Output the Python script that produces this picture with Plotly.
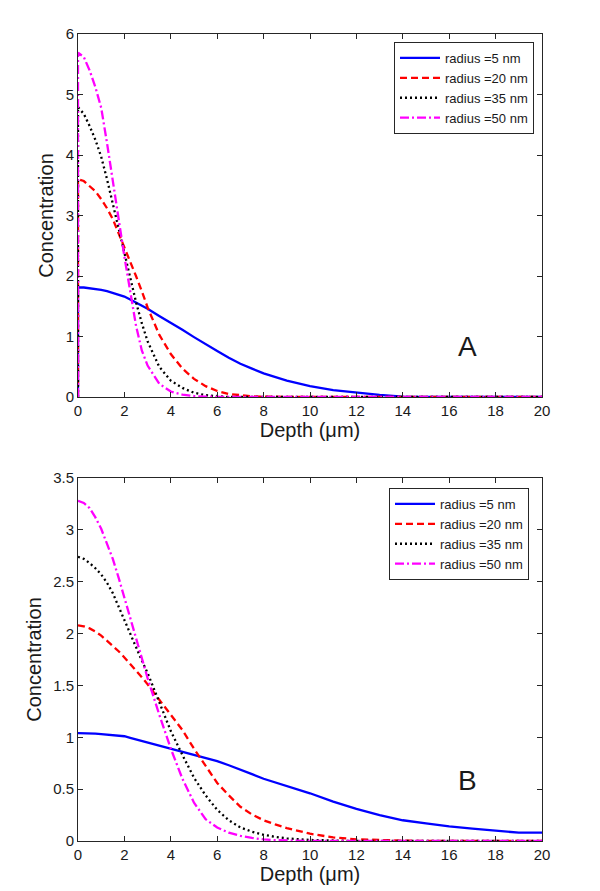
import plotly.graph_objects as go

# ---------------- data ----------------
series_names = ["radius =5 nm", "radius =20 nm", "radius =35 nm", "radius =50 nm"]

# Panel A (first point is the (0,0) start that draws the vertical rise at x=0)
depth_a = [0,
           0, 0.25, 0.5, 0.75, 1, 1.25, 1.5, 1.75, 2, 2.25, 2.5, 2.75, 3,
           3.5, 4, 4.5, 5, 5.5, 6, 6.5, 7, 7.5, 8,
           9, 10, 11, 12, 13, 14, 15, 16, 17, 18, 19, 20]
r5_a = [0,
        1.81, 1.81, 1.80, 1.79, 1.77, 1.75, 1.72, 1.69, 1.66, 1.61, 1.56, 1.51, 1.46,
        1.34, 1.23, 1.11, 0.99, 0.87, 0.76, 0.65, 0.55, 0.47, 0.39,
        0.27, 0.18, 0.115, 0.07, 0.035, 0.005, 0, 0, 0, 0, 0, 0]
r20_a = [0,
         3.60, 3.57, 3.49, 3.40, 3.27, 3.12, 2.94, 2.71, 2.45, 2.24, 2.00, 1.75, 1.48,
         1.03, 0.71, 0.47, 0.30, 0.18, 0.10, 0.05, 0.025, 0.012, 0.005,
         0, 0, 0, 0, 0, 0, 0, 0, 0, 0, 0, 0]
r35_a = [0,
         4.79, 4.68, 4.48, 4.25, 3.97, 3.60, 3.19, 2.78, 2.37, 1.96, 1.57, 1.22, 0.92,
         0.50, 0.27, 0.15, 0.07, 0.03, 0.01, 0, 0, 0, 0,
         0, 0, 0, 0, 0, 0, 0, 0, 0, 0, 0, 0]
r50_a = [0,
         5.69, 5.62, 5.40, 5.12, 4.78, 4.20, 3.55, 2.90, 2.32, 1.75, 1.18, 0.77, 0.52,
         0.22, 0.09, 0.04, 0.015, 0.005, 0, 0, 0, 0, 0,
         0, 0, 0, 0, 0, 0, 0, 0, 0, 0, 0, 0]

# Panel B
depth_b = [0, 0.25, 0.5, 0.75, 1, 1.25, 1.5, 1.75, 2, 2.25, 2.5, 2.75, 3,
           3.5, 4, 4.5, 5, 5.5, 6, 6.5, 7, 7.5, 8, 8.5, 9,
           10, 11, 12, 13, 14, 15, 16, 17, 18, 19, 20]
r5_b = [1.04, 1.04, 1.04, 1.035, 1.03, 1.025, 1.02, 1.015, 1.01, 0.995, 0.98, 0.97, 0.955,
        0.92, 0.89, 0.86, 0.83, 0.80, 0.77, 0.73, 0.69, 0.645, 0.60, 0.565, 0.53,
        0.46, 0.38, 0.31, 0.25, 0.20, 0.17, 0.14, 0.12, 0.10, 0.08, 0.08]
r20_b = [2.08, 2.07, 2.05, 2.02, 1.98, 1.93, 1.88, 1.83, 1.77, 1.71, 1.65, 1.58, 1.51,
         1.36, 1.22, 1.07, 0.89, 0.72, 0.56, 0.44, 0.33, 0.255, 0.20, 0.16, 0.125,
         0.07, 0.035, 0.016, 0.008, 0.004, 0, 0, 0, 0, 0, 0]
r35_b = [2.74, 2.72, 2.68, 2.63, 2.57, 2.49, 2.39, 2.26, 2.12, 1.99, 1.86, 1.74, 1.62,
         1.33, 1.06, 0.83, 0.61, 0.44, 0.30, 0.20, 0.13, 0.09, 0.06, 0.04, 0.025,
         0.01, 0.004, 0, 0, 0, 0, 0, 0, 0, 0, 0]
r50_b = [3.28, 3.26, 3.21, 3.12, 3.01, 2.87, 2.72, 2.54, 2.35, 2.15, 1.95, 1.76, 1.57,
         1.22, 0.89, 0.60, 0.37, 0.21, 0.13, 0.08, 0.05, 0.03, 0.015, 0.008, 0.004,
         0, 0, 0, 0, 0, 0, 0, 0, 0, 0, 0]

x_ticks = [0, 2, 4, 6, 8, 10, 12, 14, 16, 18, 20]
y_ticks_a = [0, 1, 2, 3, 4, 5, 6]
y_ticks_b = [0, 0.5, 1, 1.5, 2, 2.5, 3, 3.5]
panel_labels = ["A", "B"]

# ---------------- styling ----------------
OFF = 8                      # page body margin of the browser
W, H = 600 - OFF, 891 - OFF  # figure size so that page == 600x891
FONT = "Liberation Sans, Arial, sans-serif"
TXT = "#1a1a1a"
AX = "#262626"
colors = ["#0000ff", "#ff0000", "#000000", "#ff00ff"]
dashes = ["solid", "7px,4px", "2px,3px", "9px,3px,2px,3px"]


def fx(p):
    return (p - OFF) / W


def fy(p):
    return 1 - (p - OFF) / H


fig = go.Figure()

for name, ys, c, d in zip(series_names, [r5_a, r20_a, r35_a, r50_a], colors, dashes):
    fig.add_trace(go.Scatter(x=depth_a, y=ys, mode="lines", name=name,
                             line=dict(color=c, width=2.3, dash=d),
                             xaxis="x", yaxis="y", legend="legend"))
for name, ys, c, d in zip(series_names, [r5_b, r20_b, r35_b, r50_b], colors, dashes):
    fig.add_trace(go.Scatter(x=depth_b, y=ys, mode="lines", name=name,
                             line=dict(color=c, width=2.3, dash=d),
                             xaxis="x2", yaxis="y2", legend="legend2"))

axis_common = dict(showline=True, linecolor=AX, linewidth=1, mirror="ticks",
                   ticks="inside", ticklen=5, tickcolor=AX, tickwidth=1,
                   showgrid=False, zeroline=False, automargin=False,
                   tickfont=dict(family=FONT, size=15, color=TXT))

title_font = dict(size=20, family=FONT, color=TXT)
xdom = [fx(78), fx(542)]
fig.update_layout(
    width=W, height=H,
    margin=dict(l=0, r=0, t=0, b=0),
    paper_bgcolor="white", plot_bgcolor="white",
    font=dict(family=FONT, color=TXT),
    xaxis=dict(domain=xdom, anchor="y", range=[0, 20], tickvals=x_ticks,
               title=dict(text="Depth (\u03bcm)", font=title_font, standoff=4),
               **axis_common),
    yaxis=dict(domain=[fy(397), fy(34)], anchor="x", range=[0, 6], tickvals=y_ticks_a,
               title=dict(text="Concentration", font=title_font, standoff=6),
               **axis_common),
    xaxis2=dict(domain=xdom, anchor="y2", range=[0, 20], tickvals=x_ticks,
                title=dict(text="Depth (\u03bcm)", font=title_font, standoff=4),
                **axis_common),
    yaxis2=dict(domain=[fy(841), fy(478)], anchor="x2", range=[0, 3.5], tickvals=y_ticks_b,
                title=dict(text="Concentration", font=title_font, standoff=6),
                **axis_common),
    legend=dict(x=fx(534), xanchor="right", y=fy(42), yanchor="top",
                bordercolor=AX, borderwidth=1, bgcolor="white",
                font=dict(family=FONT, size=13, color=TXT), itemwidth=40,
                tracegroupgap=0),
    legend2=dict(x=fx(529), xanchor="right", y=fy(488), yanchor="top",
                 bordercolor=AX, borderwidth=1, bgcolor="white",
                 font=dict(family=FONT, size=13, color=TXT), itemwidth=40,
                 tracegroupgap=0),
    annotations=[
        dict(text=panel_labels[0], xref="x", yref="y", x=16.8, y=0.83,
             showarrow=False, font=dict(family=FONT, size=28, color=TXT)),
        dict(text=panel_labels[1], xref="x2", yref="y2", x=16.8, y=0.58,
             showarrow=False, font=dict(family=FONT, size=28, color=TXT)),
    ],
    shapes=[dict(type="line", xref="paper", yref="paper", x0=fx(597.5), x1=fx(597.5),
                 y0=fy(447), y1=fy(843), line=dict(color="#2a2a2a", width=1.5))],
    showlegend=True,
)

fig.write_html("out.html")
